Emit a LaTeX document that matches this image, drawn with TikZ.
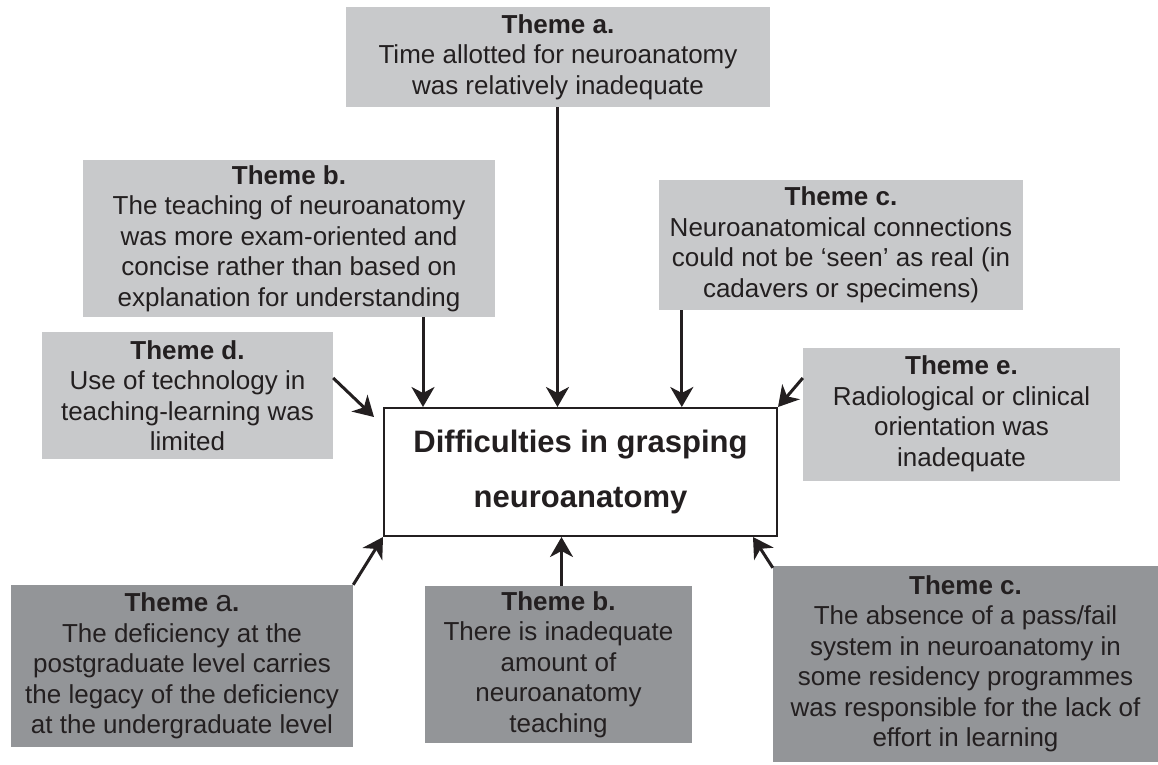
\documentclass[tikz,border=0pt]{standalone}
\usepackage{fontspec}
\setmainfont{Liberation Sans}
\usetikzlibrary{arrows.meta}
\definecolor{lightbox}{HTML}{C8C9CB}
\definecolor{darkbox}{HTML}{939598}
\definecolor{ink}{HTML}{231F20}
\begin{document}
\begin{tikzpicture}[x=1pt,y=-1pt,
  theme/.style={rectangle, inner sep=0pt, align=center, text=ink,
    font=\fontsize{26}{30.5}\selectfont},
  litebox/.style={theme, fill=lightbox},
  darkbx/.style={theme, fill=darkbox},
  arr/.style={draw=ink, line width=3pt, -{Stealth[length=20pt,width=23pt,inset=6pt]}},
]
\useasboundingbox (0,0) rectangle (1158,764);

\node[litebox, minimum width=424pt, minimum height=100pt] (ta) at (558,57)
  {\textbf{Theme a.}\\Time allotted for neuroanatomy\\was relatively inadequate};
\node[litebox, minimum width=412pt, minimum height=157pt] (tb) at (289,238.5)
  {\textbf{Theme b.}\\The teaching of neuroanatomy\\was more exam-oriented and\\concise rather than based on\\explanation for understanding};
\node[litebox, minimum width=364pt, minimum height=130pt] (tc) at (841,245)
  {\textbf{Theme c.}\\Neuroanatomical connections\\could not be ‘seen’ as real (in\\cadavers or specimens)};
\node[litebox, minimum width=291pt, minimum height=127pt] (td) at (187.5,395.5)
  {\textbf{Theme d.}\\Use of technology in\\teaching-learning was\\limited};
\node[litebox, minimum width=317pt, minimum height=133pt] (te) at (961.5,414)
  {\textbf{Theme e.}\\Radiological or clinical\\orientation was\\inadequate};

\node[rectangle, draw=ink, line width=2pt, fill=white, inner sep=0pt,
  minimum width=393pt, minimum height=128pt, align=center, text=ink,
  font=\fontsize{31}{55}\selectfont\bfseries] (ctr) at (580.5,472)
  {Difficulties in grasping\\neuroanatomy};

\node[darkbx, minimum width=342pt, minimum height=162pt] (ba) at (182,666)
  {\textbf{Theme }{\fontsize{30}{30}\selectfont a}\textbf{.}\\The deficiency at the\\postgraduate level carries\\the legacy of the deficiency\\at the undergraduate level};
\node[darkbx, minimum width=267pt, minimum height=157pt] (bb) at (558.5,664.5)
  {\textbf{Theme b.}\\There is inadequate\\amount of\\neuroanatomy\\teaching};
\node[darkbx, minimum width=385pt, minimum height=196pt] (bc) at (965.5,664)
  {\textbf{Theme c.}\\The absence of a pass/fail\\system in neuroanatomy in\\some residency programmes\\was responsible for the lack of\\effort in learning};

% connectors
\draw[arr] ([xshift=-23pt]ta.south -| ctr.north) -- ([xshift=-23pt]ctr.north);
\draw[arr] ([xshift=40pt]ctr.north west |- tb.south) -- ([xshift=40pt]ctr.north west);
\draw[arr] ([xshift=23pt]tc.south west) -- ([xshift=23pt]tc.south west |- ctr.north);
\draw[arr] ([yshift=17.5pt]td.east) -- ([xshift=-9pt,yshift=-10pt]ctr.north west);
\draw[arr] ([yshift=36pt]te.west) -- (ctr.north east);
\draw[arr] (ba.north east) -- (ctr.south west);
\draw[arr] ([xshift=-19pt]bb.north -| ctr.south) -- ([xshift=-19pt]ctr.south);
\draw[arr] ([yshift=-2pt]bc.north west) -- ([xshift=-25pt]ctr.south east);
\end{tikzpicture}
\end{document}
